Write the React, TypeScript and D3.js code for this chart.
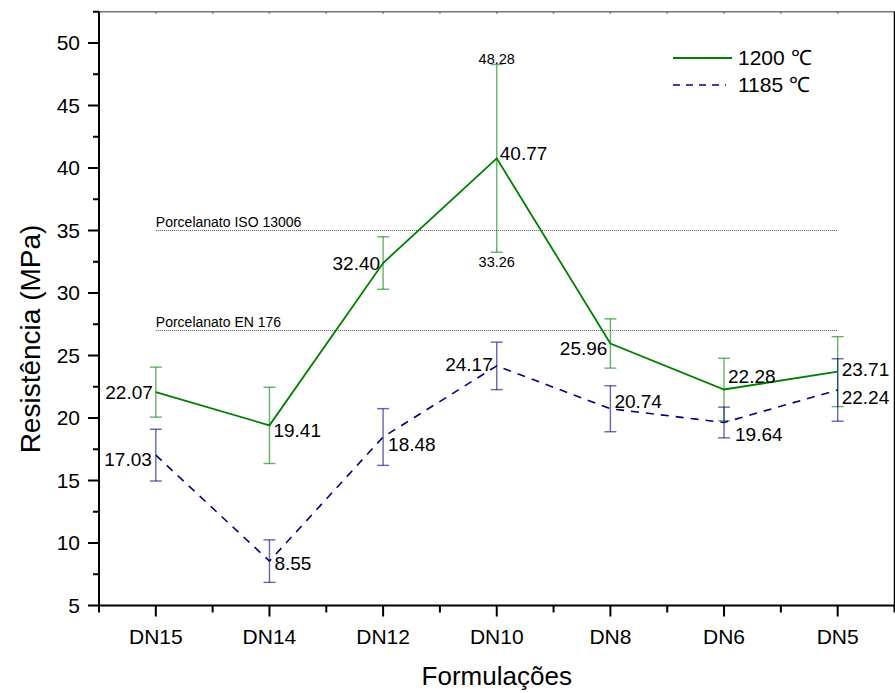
import React from "react";
import * as d3 from "d3";

const categories = ["DN15", "DN14", "DN12", "DN10", "DN8", "DN6", "DN5"];
const values1200 = [22.07, 19.41, 32.4, 40.77, 25.96, 22.28, 23.71];
const errors1200 = [2.0, 3.05, 2.1, 7.51, 1.97, 2.5, 2.8];
const values1185 = [17.03, 8.55, 18.48, 24.17, 20.74, 19.64, 22.24];
const errors1185 = [2.07, 1.7, 2.27, 1.9, 1.84, 1.23, 2.5];
const seriesNames = ["1200 \u2103", "1185 \u2103"];
const refLevels = [35, 27];
const refLabels = ["Porcelanato ISO 13006", "Porcelanato EN 176"];
const yTicks = [5, 10, 15, 20, 25, 30, 35, 40, 45, 50];
const yMinorTicks = [7.5, 12.5, 17.5, 22.5, 27.5, 32.5, 37.5, 42.5, 47.5, 52.5];

// label placement (style only)
const place1200 = [
  { a: "end", dx: -3, dy: 0 },
  { a: "start", dx: 4, dy: 5 },
  { a: "end", dx: -3, dy: 0 },
  { a: "start", dx: 3, dy: -5 },
  { a: "end", dx: -3, dy: 5 },
  { a: "start", dx: 4, dy: -13 },
  { a: "start", dx: 4, dy: -2 },
];
const place1185 = [
  { a: "end", dx: -4, dy: 4 },
  { a: "start", dx: 5, dy: 2 },
  { a: "start", dx: 5, dy: 7 },
  { a: "end", dx: -4, dy: -2 },
  { a: "start", dx: 4, dy: -7 },
  { a: "start", dx: 11, dy: 11.5 },
  { a: "start", dx: 4, dy: 7 },
];

const W = 895;
const H = 693;
const FONT = "'Liberation Sans', Arial, Helvetica, sans-serif";

export default function App() {
  const x = d3.scaleLinear().domain([-0.5, 6.5]).range([99, 894.5]);
  const y = d3.scaleLinear().domain([5, 52.5]).range([605.5, 11.75]);
  const idx = categories.map((_, i) => i);
  const xMinor = d3.range(-0.5, 6.51, 1);

  const line = d3
    .line<number>()
    .x((_, i) => x(i))
    .y((d) => y(d));

  const green = "#008000";
  const navy = "#000080";

  const errBars = (vals: number[], errs: number[], color: string) =>
    vals.map((v, i) => {
      const cx = x(i);
      const t = y(v + errs[i]);
      const b = y(v - errs[i]);
      return (
        <g key={i} stroke={color} strokeOpacity={0.6} strokeWidth={1.4}>
          <line x1={cx} x2={cx} y1={t} y2={b} />
          <line x1={cx - 6} x2={cx + 6} y1={t} y2={t} />
          <line x1={cx - 6} x2={cx + 6} y1={b} y2={b} />
        </g>
      );
    });

  const labels = (vals: number[], pl: any[]) =>
    vals.map((v, i) => (
      <text
        key={i}
        x={x(i) + pl[i].dx}
        y={y(v) + pl[i].dy}
        dy="0.35em"
        textAnchor={pl[i].a}
        fontSize={19}
        fill="#000"
      >
        {v.toFixed(2)}
      </text>
    ));

  const x0 = x(-0.5);
  const x1 = x(6.5);
  const yTop = y(52.5);
  const yBot = y(5);

  return (
    <svg
      width={W}
      height={H}
      style={{ position: "absolute", left: 0, top: 0, background: "#fff" }}
      fontFamily={FONT}
    >
      <rect x={0} y={0} width={W} height={H} fill="#fff" />
      {/* reference lines */}
      {refLevels.map((r, i) => (
        <g key={i}>
          <line
            x1={x(0)}
            x2={x(6)}
            y1={y(r)}
            y2={y(r)}
            stroke="#555"
            strokeWidth={1.2}
            strokeDasharray="1,1"
          />
          <text x={x(0)} y={y(r) - 4} fontSize={14} fill="#000">
            {refLabels[i]}
          </text>
        </g>
      ))}

      {/* error bars */}
      {errBars(values1200, errors1200, green)}
      {errBars(values1185, errors1185, navy)}

      {/* lines */}
      <path d={line(values1200) || ""} fill="none" stroke={green} strokeWidth={1.8} />
      <path
        d={line(values1185) || ""}
        fill="none"
        stroke={navy}
        strokeWidth={1.6}
        strokeDasharray="8,7"
      />

      {labels(values1200, place1200)}
      {labels(values1185, place1185)}

      {/* extreme values of DN10 error bar */}
      <text x={x(3)} y={y(values1200[3] + errors1200[3]) - 6} dy="0.35em" textAnchor="middle" fontSize={14.5}>
        {(values1200[3] + errors1200[3]).toFixed(2)}
      </text>
      <text x={x(3)} y={y(values1200[3] - errors1200[3]) + 10} dy="0.35em" textAnchor="middle" fontSize={14.5}>
        {(values1200[3] - errors1200[3]).toFixed(2)}
      </text>

      {/* frame: top and right */}
      <line x1={x0} x2={x1} y1={yTop} y2={yTop} stroke="#777" strokeWidth={1.5} />
      {xMinor.concat(idx).map((t, i) => (
        <line key={"tt" + i} x1={x(t)} x2={x(t)} y1={yTop} y2={yTop + 2} stroke="#777" strokeWidth={1.5} />
      ))}
      <line x1={x1} x2={x1} y1={yTop} y2={yBot} stroke="#000" strokeWidth={1.5} />

      {/* left axis */}
      <line x1={x0} x2={x0} y1={yTop} y2={yBot + 1} stroke="#000" strokeWidth={2} />
      {yTicks.map((t) => (
        <g key={"y" + t}>
          <line x1={x0 - 11} x2={x0} y1={y(t)} y2={y(t)} stroke="#000" strokeWidth={2} />
          <text x={x0 - 19} y={y(t)} dy="0.35em" textAnchor="end" fontSize={21}>
            {t}
          </text>
        </g>
      ))}
      {yMinorTicks.map((t) => (
        <line key={"ym" + t} x1={x0 - 6} x2={x0} y1={y(t)} y2={y(t)} stroke="#000" strokeWidth={2} />
      ))}

      {/* bottom axis */}
      <line x1={x0 - 1} x2={x1 + 1} y1={yBot} y2={yBot} stroke="#000" strokeWidth={2} />
      {idx.map((i) => (
        <g key={"x" + i}>
          <line x1={x(i)} x2={x(i)} y1={yBot} y2={yBot + 11} stroke="#000" strokeWidth={2} />
          <text x={x(i)} y={yBot + 31} dy="0.35em" textAnchor="middle" fontSize={21}>
            {categories[i]}
          </text>
        </g>
      ))}
      {xMinor.map((t, i) => (
        <line key={"xm" + i} x1={x(t)} x2={x(t)} y1={yBot} y2={yBot + 7} stroke="#000" strokeWidth={2} />
      ))}

      {/* axis titles */}
      <text x={x(3)} y={676} dy="0.35em" textAnchor="middle" fontSize={26}>
        Formulações
      </text>
      <text
        transform={`translate(30, 339) rotate(-90)`}
        textAnchor="middle"
        dy="0.35em"
        fontSize={28}
      >
        Resistência (MPa)
      </text>

      {/* legend */}
      <line x1={673} x2={732} y1={58} y2={58} stroke={green} strokeWidth={1.8} />
      <text x={738} y={58} dy="0.35em" fontSize={21}>
        {seriesNames[0]}
      </text>
      <line x1={673} x2={726} y1={85} y2={85} stroke={navy} strokeWidth={1.6} strokeDasharray="7,6" />
      <text x={738} y={85} dy="0.35em" fontSize={21}>
        {seriesNames[1]}
      </text>
    </svg>
  );
}
